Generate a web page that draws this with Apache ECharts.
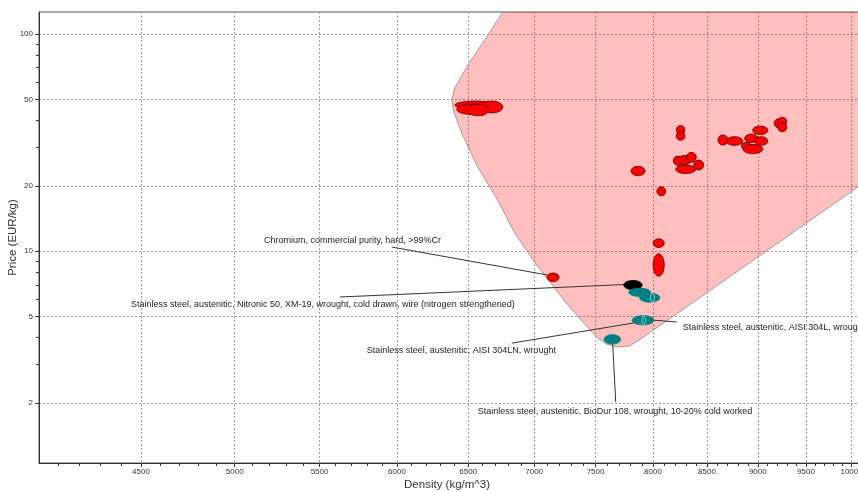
<!DOCTYPE html>
<html>
<head>
<meta charset="utf-8">
<script src="https://cdn.jsdelivr.net/npm/echarts@6/dist/echarts.min.js"></script>
<style>
  html, body { margin: 0; padding: 0; background: #ffffff; }
  #chart { width: 858px; height: 492px; }
</style>
</head>
<body>
<div id="chart"></div>
<script>
// Axis ticks (density in kg/m^3, price in EUR/kg), both on log scales
const densityTicks = [4500, 5000, 5500, 6000, 6500, 7000, 7500, 8000, 8500, 9000, 9500, 10000];
const densityMinorTicks = [4100, 4200, 4300, 4400, 4600, 4700, 4800, 4900, 5100, 5200, 5300, 5400,
  5600, 5700, 5800, 5900, 6100, 6200, 6300, 6400, 6600, 6700, 6800, 6900, 7100, 7200, 7300, 7400,
  7600, 7700, 7800, 7900, 8100, 8200, 8300, 8400, 8600, 8700, 8800, 8900, 9100, 9200, 9300, 9400,
  9600, 9700, 9800, 9900, 10100, 10200, 10300, 10400];
const priceTicks = [2, 5, 10, 20, 50, 100];
const priceMinorTicks = [3, 4, 6, 7, 8, 9, 30, 40, 60, 70, 80, 90];

// Material property ranges: [density low, density high, price low, price high]
const redRanges = [
  [6403, 6712, 45.1, 49.1],
  [6417, 6637, 42.6, 47.6],
  [6593, 6758, 43.3, 49.1],
  [6497, 6652, 42.0, 47.6],
  [7805, 7929, 22.25, 24.59],
  [8035, 8116, 17.98, 19.78],
  [8212, 8293, 34.5, 37.9],
  [8212, 8293, 32.4, 35.5],
  [8207, 8393, 22.76, 24.93],
  [8185, 8271, 24.8, 27.4],
  [8225, 8355, 25.06, 27.57],
  [8306, 8399, 25.65, 28.52],
  [8374, 8469, 23.64, 26.28],
  [8606, 8703, 30.8, 34.3],
  [8687, 8851, 30.7, 33.65],
  [8835, 8935, 29.3, 31.7],
  [8851, 9052, 28.1, 31.0],
  [8868, 9001, 31.6, 34.6],
  [8968, 9103, 30.7, 33.65],
  [8948, 9103, 34.4, 37.7],
  [9167, 9260, 37.0, 40.7],
  [9204, 9298, 37.6, 41.4],
  [9204, 9298, 35.45, 39.0],
  [7102, 7199, 7.24, 7.93],
  [8001, 8102, 10.4, 11.4],
  [8001, 8102, 7.66, 9.73]
];
const blackRanges = [
  [7741, 7904, 6.65, 7.33]
];
const tealRanges = [
  [7784, 7979, 6.18, 6.76],
  [7879, 8063, 5.81, 6.41],
  [7814, 8009, 4.57, 5.05],
  [7572, 7715, 3.73, 4.13]
];
const tealNarrowRanges = [
  [7977, 8013, 5.82, 6.40],
  [7902, 7931, 4.57, 5.05]
];

// Selection envelope outline: [density, price]
const envelope = [
  [6880, 159.5], [6758, 126.3], [6645, 98.9], [6489, 70.5], [6403, 56.4], [6381, 49.7],
  [6396, 43.7], [6453, 35.0], [6570, 24.4], [6719, 17.2], [6849, 12.1], [7020, 8.63],
  [7164, 6.76], [7269, 5.65], [7393, 4.72], [7510, 4.02], [7595, 3.73], [7689, 3.62],
  [7793, 3.66], [7890, 3.94], [10068, 19.7], [10793, 31.1], [10793, 159.5]
];

// Labelled materials: text, text anchor, leader line start and end
const annTexts = [
  'Chromium, commercial purity, hard, >99%Cr',
  'Stainless steel, austenitic, Nitronic 50, XM-19, wrought, cold drawn, wire (nitrogen strengthened)',
  'Stainless steel, austenitic, AISI 304L, wrought',
  'Stainless steel, austenitic, AISI 304LN, wrought',
  'Stainless steel, austenitic, BioDur 108, wrought, 10-20% cold worked'
];
const annTextAt = [[5167, 11.25], [4450, 5.65], [8271, 4.47], [5800, 3.47], [6570, 1.835]];
const annLineFrom = [[5965, 10.45], [5627, 6.15], [8216, 4.72], [6826, 3.77], [7672, 2.02]];
const annLineTo = [[7108, 7.76], [7749, 7.02], [7988, 4.82], [7881, 4.72], [7646, 3.73]];

const FONT = '"Liberation Sans", Arial, sans-serif';
const DENSITY_MIN = 4013, DENSITY_MAX = 10500;
const PRICE_MIN = 1.058, PRICE_MAX = 126.3;

function ellipseSeries(name, ranges, style, z) {
  return {
    type: 'custom',
    name: name,
    data: ranges,
    clip: true,
    z: z,
    silent: true,
    renderItem: function (params, api) {
      const a = api.coord([api.value(0), api.value(2)]);
      const b = api.coord([api.value(1), api.value(3)]);
      return {
        type: 'ellipse',
        shape: {
          cx: (a[0] + b[0]) / 2,
          cy: (a[1] + b[1]) / 2,
          rx: Math.abs(b[0] - a[0]) / 2,
          ry: Math.abs(b[1] - a[1]) / 2
        },
        style: style
      };
    }
  };
}

const chart = echarts.init(document.getElementById('chart'), null, { renderer: 'canvas' });

const axisText = { color: '#333', fontFamily: FONT, fontSize: 8 };
const fmt = function (v) { return String(Math.round(v * 100) / 100); };

chart.setOption({
  animation: false,
  grid: {
    left: 39, right: -37, top: 12, bottom: 29,
    containLabel: false, outerBoundsMode: 'none',
    show: true, borderColor: '#555', borderWidth: 1, backgroundColor: 'transparent'
  },
  xAxis: [
    {
      type: 'log', min: DENSITY_MIN, max: DENSITY_MAX, position: 'bottom',
      name: 'Density (kg/m^3)', nameLocation: 'middle', nameGap: 16, nameMoveOverlap: false,
      nameTextStyle: { color: '#333', fontFamily: FONT, fontSize: 11.5, padding: [0, 40, 0, 0] },
      axisLine: { lineStyle: { color: '#333', width: 1 } },
      axisTick: { customValues: densityTicks, length: 4, lineStyle: { color: '#333' } },
      axisLabel: Object.assign({ customValues: densityTicks, margin: 5, formatter: fmt }, axisText),
      splitLine: { show: true, lineStyle: { color: '#9a9a9a', width: 1, type: [2, 2] } }
    },
    {
      type: 'log', min: DENSITY_MIN, max: DENSITY_MAX, position: 'bottom',
      axisLine: { show: false },
      axisTick: { customValues: densityMinorTicks, length: 3, lineStyle: { color: '#333' } },
      axisLabel: { show: false },
      splitLine: { show: false }
    }
  ],
  yAxis: [
    {
      type: 'log', min: PRICE_MIN, max: PRICE_MAX, position: 'left',
      name: 'Price (EUR/kg)', nameLocation: 'middle', nameGap: 20, nameMoveOverlap: false,
      nameTextStyle: { color: '#333', fontFamily: FONT, fontSize: 11.5 },
      axisLine: { lineStyle: { color: '#333', width: 1 } },
      axisTick: { customValues: priceTicks, length: 4, lineStyle: { color: '#333' } },
      axisLabel: Object.assign({ customValues: priceTicks, margin: 6, formatter: fmt }, axisText),
      splitLine: { show: true, lineStyle: { color: '#9a9a9a', width: 1, type: [2, 2] } }
    },
    {
      type: 'log', min: PRICE_MIN, max: PRICE_MAX, position: 'left',
      axisLine: { show: false },
      axisTick: { customValues: priceMinorTicks, length: 3, lineStyle: { color: '#333' } },
      axisLabel: { show: false },
      splitLine: { show: false }
    }
  ],
  series: [
    {
      type: 'custom',
      name: 'envelope',
      data: [envelope[5]],
      clip: true,
      z: 1,
      silent: true,
      renderItem: function (params, api) {
        const pts = envelope.map(function (p) { return api.coord(p); });
        return {
          type: 'polygon',
          shape: { points: pts },
          style: { fill: 'rgba(255,0,0,0.25)', stroke: '#a09a9a', lineWidth: 1 }
        };
      }
    },
    {
      type: 'custom',
      name: 'labels',
      data: annTextAt,
      clip: false,
      z: 2,
      silent: true,
      renderItem: function (params, api) {
        const i = params.dataIndex;
        const t = api.coord(annTextAt[i]);
        const a = api.coord(annLineFrom[i]);
        const b = api.coord(annLineTo[i]);
        return {
          type: 'group',
          children: [
            {
              type: 'line',
              shape: { x1: a[0], y1: a[1], x2: b[0], y2: b[1] },
              style: { stroke: '#333', lineWidth: 1 }
            },
            {
              type: 'text',
              x: t[0], y: t[1],
              style: {
                text: annTexts[i], fill: '#222', font: '9px ' + FONT,
                align: 'left', verticalAlign: 'middle'
              }
            }
          ]
        };
      }
    },
    ellipseSeries('red', redRanges, { fill: '#ff0000', stroke: '#4a0000', lineWidth: 0.8 }, 3),
    ellipseSeries('black', blackRanges, { fill: '#000000', stroke: '#000000', lineWidth: 0.8 }, 3),
    ellipseSeries('teal', tealRanges, { fill: '#008080', stroke: '#008080', lineWidth: 0.6 }, 3),
    ellipseSeries('tealNarrow', tealNarrowRanges, { fill: '#008080', stroke: '#b8e0e0', lineWidth: 0.8 }, 4)
  ]
});
</script>
</body>
</html>
